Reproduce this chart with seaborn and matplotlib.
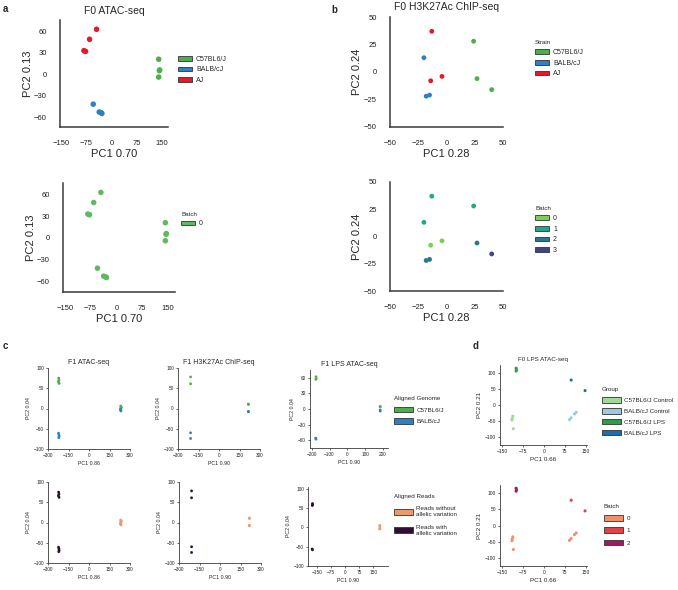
import matplotlib
matplotlib.use("Agg")
import matplotlib.pyplot as plt
import seaborn as sns
import pandas as pd
from matplotlib.patches import Patch

W, H = 678, 590

# ---- panel a: F0 ATAC-seq ----
a_strain = ["AJ"] * 4 + ["BALB/cJ"] * 4 + ["C57BL6/J"] * 4
a_pc1 = [-45, -66, -83, -78, -55, -37, -31, -29, 142, 144, 145, 142]
a_pc2 = [63, 49, 33, 32, -42, -53, -54, -55, 21, 5, 6, -4]
a_batch = ["0"] * 12

# ---- panel b: F0 H3K27Ac ChIP-seq ----
b_strain = ["AJ"] * 3 + ["BALB/cJ"] * 3 + ["C57BL6/J"] * 3
b_pc1 = [-13, -4, -14, -20, -18, -15, 24, 27, 40]
b_pc2 = [37, -4, -8, 13, -22, -21, 28, -6, -16]
b_batch = ["1", "0", "0", "1", "2", "2", "1", "2", "3"]

strain_order = ["C57BL6/J", "BALB/cJ", "AJ"]
strain_colors = ["#4daf4a", "#2f80c2", "#e41a2c"]
batch_b_order = ["0", "1", "2", "3"]
batch_b_colors = sns.color_palette("viridis_r", 4)

# ---- panel c: F1 ----
c1_genome = ["C57BL6/J"] * 4 + ["BALB/cJ"] * 4 + ["C57BL6/J"] * 4 + ["BALB/cJ"] * 4
c1_reads = ["with"] * 8 + ["without"] * 8
c1_pc1 = [-222, -220, -224, -219, -223, -220, -219, -221, 232, 235, 236, 233, 230, 233, 234, 231]
c1_pc2 = [75, 70, 66, 62, -61, -65, -69, -72, 6, 4, 2, 1, -2, -4, -6, -3]

c2_genome = ["C57BL6/J"] * 2 + ["BALB/cJ"] * 2 + ["C57BL6/J"] * 2 + ["BALB/cJ"] * 2
c2_reads = ["with"] * 4 + ["without"] * 4
c2_pc1 = [-208, -208, -208, -208, 215, 215, 215, 215]
c2_pc2 = [78, 61, -60, -74, 11, 10, -7, -8]

c3_genome = ["C57BL6/J"] * 3 + ["BALB/cJ"] * 2 + ["C57BL6/J"] * 2 + ["BALB/cJ"] * 2
c3_reads = ["with"] * 5 + ["without"] * 4
c3_pc1 = [-176, -175, -177, -178, -176, 186, 186, 186, 186]
c3_pc2 = [62, 59, 57, -56, -58, 5, 4, -2, -4]

genome_order = ["C57BL6/J", "BALB/cJ"]
genome_colors = ["#4daf4a", "#2f80c2"]
reads_order = ["without", "with"]
reads_labels = ["Reads without\nallelic variation", "Reads with\nallelic variation"]
reads_colors = ["#eb9a6c", "#2e0e32"]

# ---- panel d: F0 LPS ATAC-seq ----
d_group = (["C57BL6/J Control"] * 4 + ["BALB/cJ Control"] * 4
           + ["C57BL6/J LPS"] * 3 + ["BALB/cJ LPS"] * 2)
d_pc1 = [-112, -114, -115, -110, 92, 98, 110, 116, -100, -99, -100, 98, 148]
d_pc2 = [-35, -42, -47, -74, -46, -40, -28, -23, 115, 110, 106, 78, 45]
d_batch = ["0"] * 8 + ["2"] * 3 + ["1"] * 2

group_order = ["C57BL6/J Control", "BALB/cJ Control", "C57BL6/J LPS", "BALB/cJ LPS"]
group_colors = ["#a1d99b", "#9ecae1", "#2ca048", "#1f6db1"]
batch_d_order = ["0", "1", "2"]
batch_d_colors = ["#f0906c", "#e0424a", "#a11a5b"]

sns.set_theme(style="white")
plt.rcParams["font.family"] = ["Liberation Sans", "DejaVu Sans"]

fig = plt.figure(figsize=(W / 100, H / 100), dpi=100)


def add_box(l, t, r, b):
    return fig.add_axes([l / W, 1 - b / H, (r - l) / W, (b - t) / H])


def style(ax, tick_fs, lw, ticklen, pad):
    sns.despine(ax=ax)
    for s in ["left", "bottom"]:
        ax.spines[s].set_linewidth(lw)
        ax.spines[s].set_color("#3a3a3a")
    ax.tick_params(labelsize=tick_fs, length=ticklen, width=lw * 0.8,
                   pad=pad, colors="#222222", left=True, bottom=True)


def scatter(ax, x, y, hue, order, colors, s):
    df = pd.DataFrame({"x": x, "y": y, "hue": hue})
    sns.scatterplot(data=df, x="x", y="y", hue="hue", hue_order=order,
                    palette=dict(zip(order, colors)), s=s, linewidth=0,
                    legend=False, ax=ax)


def patch_legend(ax, labels, colors, x, y, title, fs, tfs, hl, hh, ls):
    handles = [Patch(facecolor=c, edgecolor="#333333", linewidth=0.6, label=l)
               for l, c in zip(labels, colors)]
    leg = ax.legend(handles=handles, title=title, loc="upper left",
                    bbox_to_anchor=(x / W, 1 - y / H), bbox_transform=fig.transFigure,
                    frameon=False, fontsize=fs, title_fontsize=tfs,
                    handlelength=hl, handleheight=hh, labelspacing=ls,
                    borderpad=0, borderaxespad=0, handletextpad=0.6,
                    alignment="left")
    return leg


# ---------- panel a ----------
ax = add_box(60, 20, 168, 127)
scatter(ax, a_pc1, a_pc2, a_strain, strain_order, strain_colors, 16)
ax.set_xlim(-155, 170)
ax.set_ylim(-74, 76)
ax.set_xticks([-150, -75, 0, 75, 150])
ax.set_yticks([-60, -30, 0, 30, 60])
style(ax, 5.5, 1.1, 0, 9.5)
ax.set_title("F0 ATAC-seq", fontsize=7.5, pad=4)
ax.set_xlabel("PC1 0.70", fontsize=8, labelpad=1)
ax.set_ylabel("PC2 0.13", fontsize=8, labelpad=1)
patch_legend(ax, strain_order, strain_colors, 178, 56, None, 5, 5, 2.0, 0.7, 0.5)

ax = add_box(63, 183, 175, 292)
scatter(ax, a_pc1, a_pc2, a_batch, ["0"], ["#62b862"], 16)
ax.set_xlim(-155, 170)
ax.set_ylim(-75, 76)
ax.set_xticks([-150, -75, 0, 75, 150])
ax.set_yticks([-60, -30, 0, 30, 60])
style(ax, 5.5, 1.1, 0, 9.5)
ax.set_xlabel("PC1 0.70", fontsize=8, labelpad=1)
ax.set_ylabel("PC2 0.13", fontsize=8, labelpad=1)
patch_legend(ax, ["0"], ["#62b862"], 181, 212, "Batch", 5, 4.5, 2.0, 0.7, 0.5)

# ---------- panel b ----------
ax = add_box(390, 17, 503, 127)
scatter(ax, b_pc1, b_pc2, b_strain, strain_order, strain_colors, 12)
ax.set_xlim(-50, 50)
ax.set_ylim(-50, 50)
ax.set_xticks([-50, -25, 0, 25, 50])
ax.set_yticks([-50, -25, 0, 25, 50])
style(ax, 5.5, 1.1, 0, 9.5)
ax.set_title("F0 H3K27Ac ChIP-seq", fontsize=7.5, pad=5)
ax.set_xlabel("PC1 0.28", fontsize=8, labelpad=1)
ax.set_ylabel("PC2 0.24", fontsize=8, labelpad=1)
patch_legend(ax, strain_order, strain_colors, 535, 40, "Strain", 5, 4.5, 2.0, 0.7, 0.55)

ax = add_box(390, 182, 503, 291)
scatter(ax, b_pc1, b_pc2, b_batch, batch_b_order, batch_b_colors, 12)
ax.set_xlim(-50, 50)
ax.set_ylim(-50, 50)
ax.set_xticks([-50, -25, 0, 25, 50])
ax.set_yticks([-50, -25, 0, 25, 50])
style(ax, 5.5, 1.1, 0, 9.5)
ax.set_xlabel("PC1 0.28", fontsize=8, labelpad=1)
ax.set_ylabel("PC2 0.24", fontsize=8, labelpad=1)
patch_legend(ax, batch_b_order, batch_b_colors, 535, 206, "Batch", 5, 4.5, 2.0, 0.7, 0.55)

# ---------- panel c ----------
c_sets = [
    (c1_pc1, c1_pc2, c1_genome, c1_reads, "F1 ATAC-seq", "PC1 0.86"),
    (c2_pc1, c2_pc2, c2_genome, c2_reads, "F1 H3K27Ac ChIP-seq", "PC1 0.90"),
    (c3_pc1, c3_pc2, c3_genome, c3_reads, "F1 LPS ATAC-seq", "PC1 0.90"),
]
top_boxes = [(48, 368, 130, 449), (178, 368, 260, 449), (310, 370, 388, 448)]
bot_boxes = [(48, 482, 130, 563), (179, 482, 261, 563), (308, 487, 388, 566)]

for i, (px, py, gen, rd, title, xl) in enumerate(c_sets):
    for row, box in enumerate([top_boxes[i], bot_boxes[i]]):
        ax = add_box(*box)
        if row == 0:
            scatter(ax, px, py, gen, genome_order, genome_colors, 4)
        else:
            scatter(ax, px, py, rd, reads_order, reads_colors, 4)
        if i < 2:
            ax.set_xlim(-300, 300)
            ax.set_ylim(-100, 100)
            ax.set_xticks([-300, -150, 0, 150, 300])
            ax.set_yticks([-100, -50, 0, 50, 100])
        elif row == 0:
            ax.set_xlim(-210, 230)
            ax.set_ylim(-75, 75)
            ax.set_xticks([-200, -100, 0, 100, 200])
            ax.set_yticks([-60, -30, 0, 30, 60])
        else:
            ax.set_xlim(-200, 230)
            ax.set_ylim(-100, 105)
            ax.set_xticks([-150, -75, 0, 75, 150])
            ax.set_yticks([-100, -50, 0, 50, 100])
        style(ax, 3.4, 0.6, 1.5, 1.5)
        ax.set_xlabel(xl, fontsize=3.8, labelpad=2)
        ax.set_ylabel("PC2 0.04", fontsize=3.8, labelpad=2)
        if row == 0:
            ax.set_title(title, fontsize=5, pad=3)
        if i == 2 and row == 0:
            patch_legend(ax, genome_order, genome_colors, 394, 396, "Aligned Genome",
                         4.5, 4.5, 3.0, 1.0, 0.9)
        if i == 2 and row == 1:
            patch_legend(ax, reads_labels, reads_colors, 394, 494, "Aligned Reads",
                         4.5, 4.5, 3.0, 1.0, 1.2)

# ---------- panel d ----------
for row, box in enumerate([(500, 365, 587, 445), (500, 485, 587, 566)]):
    ax = add_box(*box)
    if row == 0:
        scatter(ax, d_pc1, d_pc2, d_group, group_order, group_colors, 5)
    else:
        scatter(ax, d_pc1, d_pc2, d_batch, batch_d_order, batch_d_colors, 5)
    ax.set_xlim(-158, 155)
    ax.set_ylim(-125, 125)
    ax.set_xticks([-150, -75, 0, 75, 150])
    ax.set_yticks([-100, -50, 0, 50, 100])
    style(ax, 3.5, 0.6, 1.5, 1.5)
    ax.set_xlabel("PC1 0.66", fontsize=4.5, labelpad=2)
    ax.set_ylabel("PC2 0.21", fontsize=4.5, labelpad=2)
    if row == 0:
        ax.set_title("F0 LPS ATAC-seq", fontsize=4.5, pad=3)
        patch_legend(ax, group_order, group_colors, 602, 387, "Group", 4.5, 4.5, 3.0, 1.0, 0.8)
    else:
        patch_legend(ax, batch_d_order, batch_d_colors, 604, 504, "Batch", 4.5, 4.5, 3.0, 1.0, 1.0)

# panel letters
for letter, x, y in [("a", 3, 9), ("b", 331, 10), ("c", 3, 346), ("d", 473, 346)]:
    fig.text(x / W, 1 - y / H, letter, fontsize=7, fontweight="bold", va="center")

fig.savefig("out.png", dpi=100)
